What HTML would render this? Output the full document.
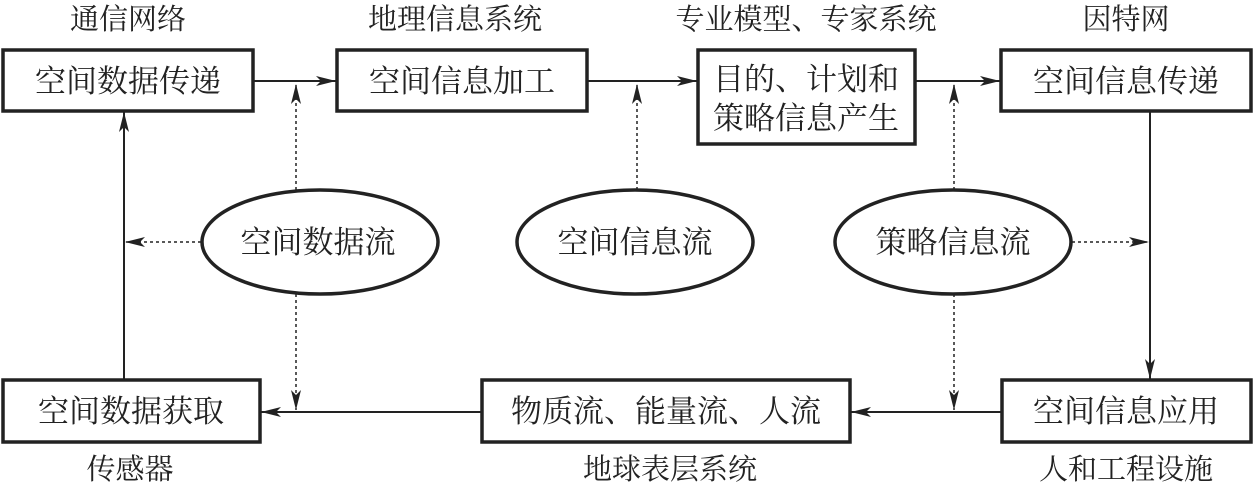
<!DOCTYPE html>
<html><head><meta charset="utf-8"><style>
html,body{margin:0;padding:0;background:#fff;}
svg text{font-family:"Noto Serif CJK SC","Liberation Serif","Noto Sans CJK SC",serif;fill:#222;}
</style></head><body>
<svg width="1254" height="487" viewBox="0 0 1254 487" xmlns="http://www.w3.org/2000/svg">
<defs>
<marker id="a" viewBox="0 0 20 10" refX="20" refY="5" markerWidth="20" markerHeight="10" markerUnits="userSpaceOnUse" orient="auto">
<path d="M0,0 L20,5 L0,10 L5,5 Z" fill="#222"/></marker>
</defs>
<g font-size="29" text-anchor="middle">
<text x="128" y="29">通信网络</text>
<text x="455" y="29">地理信息系统</text>
<text x="806" y="29">专业模型、专家系统</text>
<text x="1126" y="29">因特网</text>
<text x="130" y="479">传感器</text>
<text x="670" y="479">地球表层系统</text>
<text x="1126" y="479">人和工程设施</text>
</g>
<g fill="#fff" stroke="#222" stroke-width="3.5">
<rect x="3" y="50" width="250" height="61"/>
<rect x="337" y="50" width="250" height="61"/>
<rect x="698" y="50" width="217" height="94"/>
<rect x="1001" y="50" width="250" height="61"/>
<rect x="3" y="380" width="257" height="62"/>
<rect x="482" y="380" width="368" height="62"/>
<rect x="1002" y="380" width="249" height="62"/>
<ellipse cx="320" cy="242" rx="118" ry="52"/>
<ellipse cx="635" cy="242" rx="118" ry="52"/>
<ellipse cx="953" cy="242" rx="118" ry="52"/>
</g>
<g stroke="#222" stroke-width="2" fill="none">
<line x1="253" y1="81" x2="336" y2="81" marker-end="url(#a)"/>
<line x1="587" y1="81" x2="697" y2="81" marker-end="url(#a)"/>
<line x1="915" y1="81" x2="1000" y2="81" marker-end="url(#a)"/>
<line x1="124" y1="380" x2="124" y2="112" marker-end="url(#a)"/>
<line x1="1150" y1="111" x2="1150" y2="379" marker-end="url(#a)"/>
<line x1="1002" y1="412" x2="851" y2="412" marker-end="url(#a)"/>
<line x1="482" y1="412" x2="261" y2="412" marker-end="url(#a)"/>
</g>
<g stroke="#222" stroke-width="1.5" fill="none" stroke-dasharray="3,3">
<line x1="296" y1="190" x2="296" y2="84" marker-end="url(#a)"/>
<line x1="637" y1="190" x2="637" y2="84" marker-end="url(#a)"/>
<line x1="954" y1="190" x2="954" y2="84" marker-end="url(#a)"/>
<line x1="201" y1="242" x2="125" y2="242" marker-end="url(#a)"/>
<line x1="1072" y1="242" x2="1149" y2="242" marker-end="url(#a)"/>
<line x1="296" y1="294" x2="296" y2="410" marker-end="url(#a)"/>
<line x1="954" y1="294" x2="954" y2="410" marker-end="url(#a)"/>
</g>
<g font-size="31" text-anchor="middle">
<text x="128" y="92">空间数据传递</text>
<text x="462" y="92">空间信息加工</text>
<text x="806" y="90">目的、计划和</text>
<text x="806" y="129">策略信息产生</text>
<text x="1126" y="92">空间信息传递</text>
<text x="318" y="253">空间数据流</text>
<text x="635" y="253">空间信息流</text>
<text x="953" y="253">策略信息流</text>
<text x="131" y="422">空间数据获取</text>
<text x="666" y="422">物质流、能量流、人流</text>
<text x="1126" y="422">空间信息应用</text>
</g>
</svg>
</body></html>
